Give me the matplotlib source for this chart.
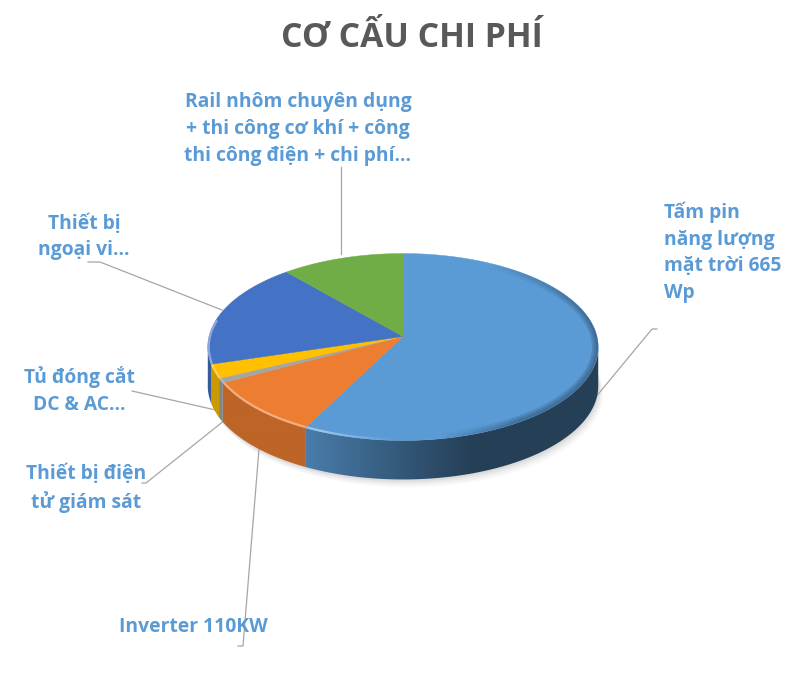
#!/usr/bin/env python3

import numpy as np
import matplotlib
matplotlib.use('Agg')
import matplotlib.pyplot as plt
from matplotlib.colors import to_rgb
from matplotlib.patches import Polygon

labels = [
    'Tấm pin\nnăng lượng\nmặt trời 665\nWp',
    'Inverter 110KW',
    'Thiết bị điện\ntử giám sát',
    'Tủ đóng cắt\nDC & AC...',
    'Thiết bị\nngoại vi...',
    'Rail nhôm chuyên dụng\n+ thi công cơ khí + công\nthi công điện + chi phí...',
]
values = [57.5, 9.6, 0.8, 2.4, 18.4, 11.3]
colors = ['#5b9bd5', '#ed7d31', '#a5a5a5', '#ffc000', '#4472c4', '#70ad47']

# pie geometry in pixels, tilted with a little perspective
CX, CY = 403, 336.5
R, B, K = 194, 92.3, 0.1123
DEPTH = 39


def project(angle):
    X, Y = np.sin(angle), np.cos(angle)
    return CX + R * X / (1 + K * Y), CY - B * Y / (1 + K * Y)


fig = plt.figure(figsize=(8.12, 6.99), dpi=100)
ax = fig.add_axes([0, 0, 1, 1])
ax.axis('off')

edges = np.radians(np.concatenate([[0], np.cumsum(values)]) * 3.6)

# soft shadow under the pie
t = np.linspace(0, 2 * np.pi, 200)
sx, sy = project(t)
for grow, alpha in zip([8, 6, 4, 2], [0.025, 0.03, 0.04, 0.05]):
    ax.fill(sx + grow * 0.6, sy + DEPTH + grow, color='black', alpha=alpha, lw=0, zorder=1)

# side wall: horizontal gradient image clipped to each slice
gx = np.arange(200, 606)
gf = np.interp(gx, [208, 307, 400, 470, 598], [0.8, 0.8, 0.57, 0.41, 0.41])
for i, col in enumerate(colors):
    a = np.linspace(edges[i], edges[i + 1], 150)
    x, y = project(a)
    front = y >= 345
    if not front.any():
        continue
    x, y = x[front], y[front]
    img = np.outer(gf, to_rgb(col)).reshape(1, -1, 3)
    im = ax.imshow(img, extent=[200, 606, 500, 330], aspect='auto', zorder=2,
                   interpolation='bilinear')
    poly = Polygon(np.c_[np.r_[x, x[::-1]], np.r_[y, y[::-1] + DEPTH]],
                   transform=ax.transData, fc='none', ec='none')
    ax.add_patch(poly)
    im.set_clip_path(poly)

# top face, then a bevel along the rim clipped to it:
# light at the front left, dark on the right
for i, col in enumerate(colors):
    a = np.linspace(edges[i], edges[i + 1], 150)
    x, y = project(a)
    face, = ax.fill(np.r_[CX, x], np.r_[CY, y], color=col, lw=0.3, zorder=3)
    for j in range(0, len(a) - 1):
        xm, ym = (x[j] + x[j + 1]) / 2, (y[j] + y[j + 1]) / 2
        light = np.interp(xm, [208, 320, 395], [0.6, 0.6, 0])
        dark = np.interp(xm, [440, 520], [0, 0.55]) if ym > 320 else np.interp(xm, [490, 590], [0, 0.55])
        if light > 0 and ym > 320:
            seg, = ax.plot(x[j:j + 2], y[j:j + 2], color='white', lw=3, alpha=light * 0.7,
                           solid_capstyle='butt', zorder=4)
            seg.set_clip_path(face)
        if dark > 0:
            for lw in (9, 6, 3):
                seg, = ax.plot(x[j:j + 2], y[j:j + 2], color='#1c3348', lw=lw, alpha=dark * 0.3,
                               solid_capstyle='butt', zorder=4)
                seg.set_clip_path(face)

# leader lines, one per label
leaders = [
    ([595, 652, 657], [398, 329, 329]),
    ([259, 243, 238], [449, 646, 646]),
    ([225, 146, 142], [420, 483, 483]),
    ([220, 132], [411, 391]),
    ([222, 100, 88], [310, 262, 262]),
    ([341, 341], [254, 167]),
]
for lx, ly in leaders:
    ax.plot(lx, ly, color='#a6a6a6', lw=0.9, zorder=1.5)

font = 'Open Sans'
ax.text(412, 38, 'CƠ CẤU CHI PHÍ', ha='center', va='center', fontsize=24.3,
        fontweight='bold', color='#595959', family=font)

label_pos = [
    (664, 252.5, 'left'),
    (193.5, 627, 'center'),
    (86, 488, 'center'),
    (79, 390.5, 'center'),
    (84, 237, 'center'),
    (298, 129, 'center'),
]
for text, (x, y, ha) in zip(labels, label_pos):
    ax.text(x, y, text, ha=ha, va='center', fontsize=13.9, fontweight='bold',
            color='#5b9bd5', family=font, linespacing=1.44, zorder=6)

ax.set_xlim(0, 812)
ax.set_ylim(699, 0)

fig.savefig('out.png', dpi=100)
